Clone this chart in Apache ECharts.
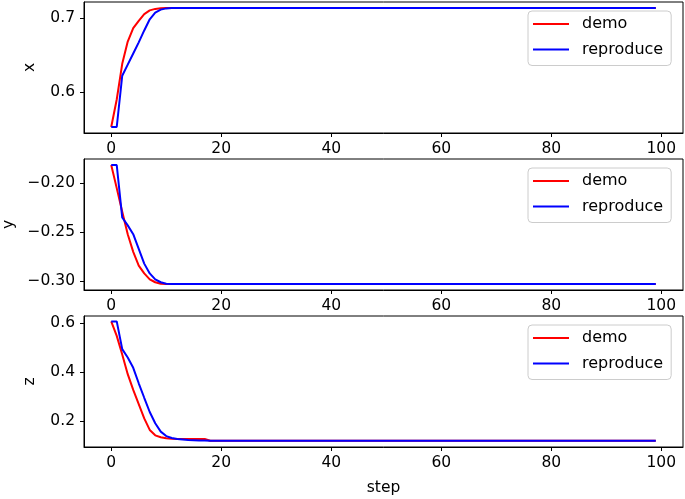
<!DOCTYPE html>
<html>
<head>
<meta charset="utf-8">
<script src="https://cdn.jsdelivr.net/npm/echarts@6/dist/echarts.min.js"></script>
<style>
html,body{margin:0;padding:0;background:#fff;}
#chart{width:685px;height:499px;}
</style>
</head>
<body>
<div id="chart"></div>
<script>
// ---- data ----
const steps = [
  0,1,2,3,4,5,6,7,8,9,10,11,12,13,14,15,16,17,18,19,
  20,21,22,23,24,25,26,27,28,29,30,31,32,33,34,35,36,37,38,39,
  40,41,42,43,44,45,46,47,48,49,50,51,52,53,54,55,56,57,58,59,
  60,61,62,63,64,65,66,67,68,69,70,71,72,73,74,75,76,77,78,79,
  80,81,82,83,84,85,86,87,88,89,90,91,92,93,94,95,96,97,98,99
];
const seriesNames = ['demo', 'reproduce'];
const panelNames = ['x', 'y', 'z'];
const xTicks = [0, 20, 40, 60, 80, 100];
const xTickLabels = ['0', '20', '40', '60', '80', '100'];
const yTicksX = [0.6, 0.7];
const yTickLabelsX = ['0.6', '0.7'];
const yTicksY = [-0.30, -0.25, -0.20];
const yTickLabelsY = ['\u22120.30', '\u22120.25', '\u22120.20'];
const yTicksZ = [0.2, 0.4, 0.6];
const yTickLabelsZ = ['0.2', '0.4', '0.6'];

const xDemo = [
  0.553, 0.590, 0.638, 0.668, 0.686, 0.696, 0.705, 0.710, 0.712, 0.713,
  0.7133, 0.7133, 0.7133, 0.7133, 0.7133, 0.7133, 0.7133, 0.7133, 0.7133, 0.7133,
  0.7133, 0.7133, 0.7133, 0.7133, 0.7133, 0.7133, 0.7133, 0.7133, 0.7133, 0.7133,
  0.7133, 0.7133, 0.7133, 0.7133, 0.7133, 0.7133, 0.7133, 0.7133, 0.7133, 0.7133,
  0.7133, 0.7133, 0.7133, 0.7133, 0.7133, 0.7133, 0.7133, 0.7133, 0.7133, 0.7133,
  0.7133, 0.7133, 0.7133, 0.7133, 0.7133, 0.7133, 0.7133, 0.7133, 0.7133, 0.7133,
  0.7133, 0.7133, 0.7133, 0.7133, 0.7133, 0.7133, 0.7133, 0.7133, 0.7133, 0.7133,
  0.7133, 0.7133, 0.7133, 0.7133, 0.7133, 0.7133, 0.7133, 0.7133, 0.7133, 0.7133,
  0.7133, 0.7133, 0.7133, 0.7133, 0.7133, 0.7133, 0.7133, 0.7133, 0.7133, 0.7133,
  0.7133, 0.7133, 0.7133, 0.7133, 0.7133, 0.7133, 0.7133, 0.7133, 0.7133, 0.7133
];
const xRepro = [
  0.553, 0.553, 0.622, 0.637, 0.652, 0.667, 0.683, 0.698, 0.707, 0.711,
  0.7127, 0.7132, 0.7133, 0.7133, 0.7133, 0.7133, 0.7133, 0.7133, 0.7133, 0.7133,
  0.7133, 0.7133, 0.7133, 0.7133, 0.7133, 0.7133, 0.7133, 0.7133, 0.7133, 0.7133,
  0.7133, 0.7133, 0.7133, 0.7133, 0.7133, 0.7133, 0.7133, 0.7133, 0.7133, 0.7133,
  0.7133, 0.7133, 0.7133, 0.7133, 0.7133, 0.7133, 0.7133, 0.7133, 0.7133, 0.7133,
  0.7133, 0.7133, 0.7133, 0.7133, 0.7133, 0.7133, 0.7133, 0.7133, 0.7133, 0.7133,
  0.7133, 0.7133, 0.7133, 0.7133, 0.7133, 0.7133, 0.7133, 0.7133, 0.7133, 0.7133,
  0.7133, 0.7133, 0.7133, 0.7133, 0.7133, 0.7133, 0.7133, 0.7133, 0.7133, 0.7133,
  0.7133, 0.7133, 0.7133, 0.7133, 0.7133, 0.7133, 0.7133, 0.7133, 0.7133, 0.7133,
  0.7133, 0.7133, 0.7133, 0.7133, 0.7133, 0.7133, 0.7133, 0.7133, 0.7133, 0.7133
];
const yDemo = [
  -0.1814, -0.205, -0.229, -0.252, -0.270, -0.284, -0.292, -0.298, -0.301, -0.3025,
  -0.3028, -0.3028, -0.3028, -0.3028, -0.3028, -0.3028, -0.3028, -0.3028, -0.3028, -0.3028,
  -0.3028, -0.3028, -0.3028, -0.3028, -0.3028, -0.3028, -0.3028, -0.3028, -0.3028, -0.3028,
  -0.3028, -0.3028, -0.3028, -0.3028, -0.3028, -0.3028, -0.3028, -0.3028, -0.3028, -0.3028,
  -0.3028, -0.3028, -0.3028, -0.3028, -0.3028, -0.3028, -0.3028, -0.3028, -0.3028, -0.3028,
  -0.3028, -0.3028, -0.3028, -0.3028, -0.3028, -0.3028, -0.3028, -0.3028, -0.3028, -0.3028,
  -0.3028, -0.3028, -0.3028, -0.3028, -0.3028, -0.3028, -0.3028, -0.3028, -0.3028, -0.3028,
  -0.3028, -0.3028, -0.3028, -0.3028, -0.3028, -0.3028, -0.3028, -0.3028, -0.3028, -0.3028,
  -0.3028, -0.3028, -0.3028, -0.3028, -0.3028, -0.3028, -0.3028, -0.3028, -0.3028, -0.3028,
  -0.3028, -0.3028, -0.3028, -0.3028, -0.3028, -0.3028, -0.3028, -0.3028, -0.3028, -0.3028
];
const yRepro = [
  -0.1814, -0.1814, -0.235, -0.243, -0.252, -0.267, -0.282, -0.292, -0.298, -0.301,
  -0.3025, -0.3028, -0.3028, -0.3028, -0.3028, -0.3028, -0.3028, -0.3028, -0.3028, -0.3028,
  -0.3028, -0.3028, -0.3028, -0.3028, -0.3028, -0.3028, -0.3028, -0.3028, -0.3028, -0.3028,
  -0.3028, -0.3028, -0.3028, -0.3028, -0.3028, -0.3028, -0.3028, -0.3028, -0.3028, -0.3028,
  -0.3028, -0.3028, -0.3028, -0.3028, -0.3028, -0.3028, -0.3028, -0.3028, -0.3028, -0.3028,
  -0.3028, -0.3028, -0.3028, -0.3028, -0.3028, -0.3028, -0.3028, -0.3028, -0.3028, -0.3028,
  -0.3028, -0.3028, -0.3028, -0.3028, -0.3028, -0.3028, -0.3028, -0.3028, -0.3028, -0.3028,
  -0.3028, -0.3028, -0.3028, -0.3028, -0.3028, -0.3028, -0.3028, -0.3028, -0.3028, -0.3028,
  -0.3028, -0.3028, -0.3028, -0.3028, -0.3028, -0.3028, -0.3028, -0.3028, -0.3028, -0.3028,
  -0.3028, -0.3028, -0.3028, -0.3028, -0.3028, -0.3028, -0.3028, -0.3028, -0.3028, -0.3028
];
const zDemo = [
  0.607, 0.548, 0.472, 0.392, 0.328, 0.270, 0.212, 0.165, 0.143, 0.135,
  0.131, 0.129, 0.128, 0.128, 0.128, 0.128, 0.128, 0.128, 0.121, 0.121,
  0.121, 0.121, 0.121, 0.121, 0.121, 0.121, 0.121, 0.121, 0.121, 0.121,
  0.121, 0.121, 0.121, 0.121, 0.121, 0.121, 0.121, 0.121, 0.121, 0.121,
  0.121, 0.121, 0.121, 0.121, 0.121, 0.121, 0.121, 0.121, 0.121, 0.121,
  0.121, 0.121, 0.121, 0.121, 0.121, 0.121, 0.121, 0.121, 0.121, 0.121,
  0.121, 0.121, 0.121, 0.121, 0.121, 0.121, 0.121, 0.121, 0.121, 0.121,
  0.121, 0.121, 0.121, 0.121, 0.121, 0.121, 0.121, 0.121, 0.121, 0.121,
  0.121, 0.121, 0.121, 0.121, 0.121, 0.121, 0.121, 0.121, 0.121, 0.121,
  0.121, 0.121, 0.121, 0.121, 0.121, 0.121, 0.121, 0.121, 0.121, 0.121
];
const zRepro = [
  0.607, 0.607, 0.494, 0.460, 0.418, 0.355, 0.296, 0.238, 0.192, 0.158,
  0.140, 0.132, 0.128, 0.126, 0.124, 0.123, 0.122, 0.1215, 0.121, 0.121,
  0.121, 0.121, 0.121, 0.121, 0.121, 0.121, 0.121, 0.121, 0.121, 0.121,
  0.121, 0.121, 0.121, 0.121, 0.121, 0.121, 0.121, 0.121, 0.121, 0.121,
  0.121, 0.121, 0.121, 0.121, 0.121, 0.121, 0.121, 0.121, 0.121, 0.121,
  0.121, 0.121, 0.121, 0.121, 0.121, 0.121, 0.121, 0.121, 0.121, 0.121,
  0.121, 0.121, 0.121, 0.121, 0.121, 0.121, 0.121, 0.121, 0.121, 0.121,
  0.121, 0.121, 0.121, 0.121, 0.121, 0.121, 0.121, 0.121, 0.121, 0.121,
  0.121, 0.121, 0.121, 0.121, 0.121, 0.121, 0.121, 0.121, 0.121, 0.121,
  0.121, 0.121, 0.121, 0.121, 0.121, 0.121, 0.121, 0.121, 0.121, 0.121
];

// ---- layout / style ----
const FONT = 'DejaVu Sans';
const RED = '#ff0000', BLUE = '#0000ff';
const gridTops = [2, 159, 316];
const gridH = 131;
const yRanges = [[0.5449, 0.7213], [-0.3089, -0.1753], [0.0955, 0.6290]];
const yTickSets = [[yTicksX, yTickLabelsX], [yTicksY, yTickLabelsY], [yTicksZ, yTickLabelsZ]];
const nameGaps = [46, 66, 46];
const legendTops = [11, 168, 325];
const panelData = [[xDemo, xRepro], [yDemo, yRepro], [zDemo, zRepro]];

const grids = [], xAxes = [], yAxes = [], series = [], legends = [];
for (let p = 0; p < 3; p++) {
  grids.push({left: 84, right: 2, top: gridTops[p], height: gridH,
    containLabel: false, outerBoundsMode: 'none',
    show: true, borderColor: '#000', borderWidth: 1, backgroundColor: 'transparent'});
  xAxes.push({
    type: 'value', gridIndex: p, min: -4.95, max: 103.95,
    name: p === 2 ? 'step' : '', nameLocation: 'middle', nameGap: 33,
    nameTextStyle: {fontFamily: FONT, fontSize: 15.5, color: '#000'},
    axisLine: {show: true, onZero: false, lineStyle: {color: '#000', width: 1}},
    axisTick: {show: true, length: 4, lineStyle: {color: '#000'}, customValues: xTicks},
    axisLabel: {show: true, margin: 8, fontFamily: FONT, fontSize: 15.5, color: '#000',
      customValues: xTicks,
      formatter: v => { const i = xTicks.indexOf(v); return i >= 0 ? xTickLabels[i] : ''; }},
    splitLine: {show: false}
  });
  const tv = yTickSets[p][0], tl = yTickSets[p][1];
  yAxes.push({
    type: 'value', gridIndex: p, min: yRanges[p][0], max: yRanges[p][1],
    name: panelNames[p], nameLocation: 'middle', nameGap: nameGaps[p], nameRotate: 90,
    nameTextStyle: {fontFamily: FONT, fontSize: 15.5, color: '#000'},
    axisLine: {show: true, onZero: false, lineStyle: {color: '#000', width: 1}},
    axisTick: {show: true, length: 4, lineStyle: {color: '#000'}, customValues: tv},
    axisLabel: {show: true, margin: 9, fontFamily: FONT, fontSize: 15.5, color: '#000',
      customValues: tv,
      formatter: v => { let i = -1; tv.forEach((t, k) => { if (Math.abs(t - v) < 1e-9) i = k; }); return i >= 0 ? tl[i] : ''; }},
    splitLine: {show: false}
  });
  const cols = [RED, BLUE];
  for (let s = 0; s < 2; s++) {
    series.push({
      type: 'line', name: seriesNames[s], id: seriesNames[s] + p,
      xAxisIndex: p, yAxisIndex: p, color: cols[s],
      data: steps.map((st, i) => [st, panelData[p][s][i]]),
      showSymbol: false, symbol: 'none', smooth: false, animation: false,
      lineStyle: {color: cols[s], width: 2}, z: 2 + s, clip: true
    });
  }
  legends.push({
    orient: 'vertical', left: 528, top: legendTops[p],
    data: seriesNames.map(n => ({name: n})),
    icon: 'rect', itemWidth: 36, itemHeight: 2, itemGap: 7.5,
    padding: [4, 8, 7, 5],
    backgroundColor: 'rgba(255,255,255,0.85)', borderColor: '#cccccc', borderWidth: 1, borderRadius: 4,
    selectedMode: false,
    textStyle: {fontFamily: FONT, fontSize: 16, color: '#000', lineHeight: 18, padding: [0, 0, 0, 8]}
  });
}

const chart = echarts.init(document.getElementById('chart'), null, {renderer: 'canvas'});
chart.setOption({
  animation: false,
  backgroundColor: '#fff',
  grid: grids, xAxis: xAxes, yAxis: yAxes, series: series, legend: legends
});
</script>
</body>
</html>
